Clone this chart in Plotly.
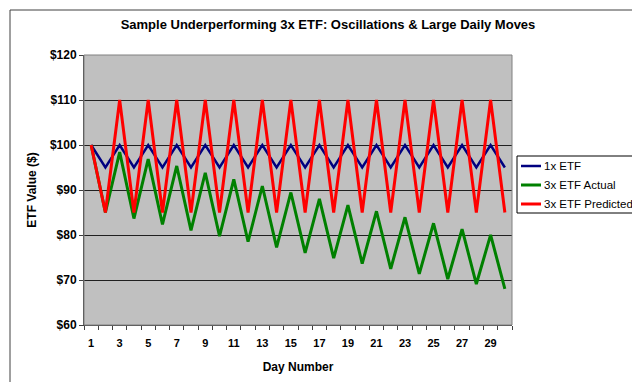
import plotly.graph_objects as go

days = list(range(1, 31))
etf_1x = [100, 95, 100, 95, 100, 95, 100, 95, 100, 95,
          100, 95, 100, 95, 100, 95, 100, 95, 100, 95,
          100, 95, 100, 95, 100, 95, 100, 95, 100, 95]
etf_3x_actual = [100, 85, 98.42, 83.66, 96.87, 82.34, 95.34, 81.04, 93.83, 79.76,
                 92.35, 78.50, 90.89, 77.26, 89.45, 76.04, 88.04, 74.84, 86.65, 73.65,
                 85.28, 72.49, 83.94, 71.35, 82.61, 70.22, 81.31, 69.11, 80.02, 68.02]
etf_3x_pred = [100, 85, 110, 85, 110, 85, 110, 85, 110, 85,
               110, 85, 110, 85, 110, 85, 110, 85, 110, 85,
               110, 85, 110, 85, 110, 85, 110, 85, 110, 85]
series_names = ["1x ETF", "3x ETF Actual", "3x ETF Predicted"]
x_tick_days = list(range(1, 31, 2))
y_ticks = [60, 70, 80, 90, 100, 110, 120]
y_tick_labels = ["$" + str(v) for v in y_ticks]

FONT = "Arial, 'Liberation Sans', sans-serif"
W, H = 640, 382
L, R, T, B = 76, 136, 47, 65
PW, PH = W - L - R, H - T - B


def px(x):
    return (x - L) / PW


def py(y):
    return (H - B - y) / PH


fig = go.Figure()
series = [(series_names[0], etf_1x, "#000080", 2.5),
          (series_names[1], etf_3x_actual, "#008000", 3),
          (series_names[2], etf_3x_pred, "#FF0000", 3)]
for name, vals, color, width in series:
    fig.add_trace(go.Scatter(x=days, y=vals, mode="lines", name=name,
                             line=dict(color=color, width=width)))

# Excel-style legend box drawn beside the plot
shapes = [
    dict(type="rect", xref="paper", yref="paper", x0=0, x1=1, y0=0, y1=1,
         line=dict(color="#808080", width=1), layer="above"),
    dict(type="rect", xref="paper", yref="paper",
         x0=px(2), x1=px(637), y0=py(380), y1=py(2),
         line=dict(color="#404040", width=1)),
    dict(type="rect", xref="paper", yref="paper",
         x0=px(509), x1=px(634), y0=py(205), y1=py(148),
         line=dict(color="black", width=1), fillcolor="white"),
]
annotations = []
row_y = [158, 177, 196]
for tr, ry in zip(fig.data, row_y):
    shapes.append(dict(type="line", xref="paper", yref="paper",
                       x0=px(513), x1=px(533), y0=py(ry), y1=py(ry),
                       line=dict(color=tr.line.color, width=tr.line.width)))
    annotations.append(dict(text=tr.name, xref="paper", yref="paper",
                            x=px(534), y=py(ry), xanchor="left", yanchor="middle",
                            showarrow=False,
                            font=dict(size=11.5, family=FONT, color="#000000")))

fig.update_layout(
    width=W, height=H,
    margin=dict(l=L, r=R, t=T, b=B, autoexpand=False),
    paper_bgcolor="white",
    plot_bgcolor="#C0C0C0",
    font=dict(family=FONT, color="black", size=11),
    title=dict(text="Sample Underperforming 3x ETF: Oscillations & Large Daily Moves",
               x=0.5, xanchor="center", y=1 - 16 / 382, yanchor="middle",
               font=dict(size=13, weight="bold", family=FONT)),
    showlegend=False,
    xaxis=dict(range=[0.5, 30.5], tickmode="array", tickvals=x_tick_days,
               ticks="outside", ticklen=0, tickcolor="rgba(0,0,0,0)",
               ticklabelstandoff=8,
               minor=dict(tick0=0.5, dtick=1, ticks="outside", ticklen=4,
                          tickcolor="#404040", showgrid=False),
               showgrid=False, zeroline=False,
               showline=True, linecolor="#404040", linewidth=1, mirror=False,
               tickfont=dict(size=11, weight="bold", family=FONT),
               title=dict(text="Day Number", standoff=14,
                          font=dict(size=12, weight="bold", family=FONT))),
    yaxis=dict(range=[60, 120], tickmode="array", tickvals=y_ticks,
               ticktext=y_tick_labels, ticks="outside", ticklen=4, tickcolor="#404040",
               showgrid=True, gridcolor="#202020", gridwidth=1, zeroline=False,
               showline=True, linecolor="#404040", linewidth=1,
               tickfont=dict(size=12, weight="bold", family=FONT),
               title=dict(text="ETF Value ($)", standoff=10,
                          font=dict(size=12, weight="bold", family=FONT))),
    shapes=shapes,
    annotations=annotations,
)

fig.write_html("out.html")
